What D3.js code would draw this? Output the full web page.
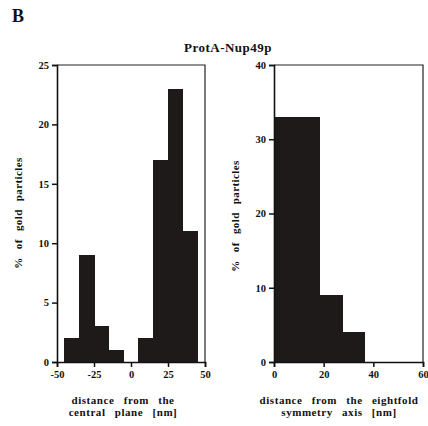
<!DOCTYPE html>
<html>
<head>
<meta charset="utf-8">
<script src="https://cdn.jsdelivr.net/npm/d3@7"></script>
<style>
  body { margin: 0; background: #fff; }
  svg text { font-family: "Liberation Serif", "Times New Roman", serif; font-weight: bold; fill: #111; }
</style>
</head>
<body>
<div id="chart"></div>
<script>
// histogram 1: distance from the central plane (bins of 10 nm)
const planeBinStart = [-45, -35, -25, -15, -5, 5, 15, 25, 35];
const planeBinEnd   = [-35, -25, -15, -5, 5, 15, 25, 35, 45];
const planeValues   = [2, 9, 3, 1, 0, 2, 17, 23, 11];
const planeXTicks   = [-50, -25, 0, 25, 50];
const planeYTicks   = [0, 5, 10, 15, 20, 25];

// histogram 2: distance from the eightfold symmetry axis
const axisBinStart = [0, 18.3, 27.4];
const axisBinEnd   = [18.3, 27.4, 36.4];
const axisValues   = [33, 9, 4];
const axisXTicks   = [0, 20, 40, 60];
const axisYTicks   = [0, 10, 20, 30, 40];

const W = 428, H = 426;
const svg = d3.select("#chart").append("svg")
    .attr("width", W)
    .attr("height", H);

svg.append("text")
    .attr("x", 12).attr("y", 22)
    .style("font-size", "18px")
    .text("B");

svg.append("text")
    .attr("x", 228).attr("y", 52)
    .attr("text-anchor", "middle")
    .style("font-size", "13px")
    .style("letter-spacing", "0.5px")
    .text("ProtA-Nup49p");

function panel(opt) {
  const x = d3.scaleLinear().domain(opt.xDomain).range([opt.x0, opt.x1]);
  const y = d3.scaleLinear().domain(opt.yDomain).range([362, 65]);

  // bars
  svg.append("g").selectAll("rect")
    .data(opt.values.map((v, i) => ({s: opt.starts[i], e: opt.ends[i], v: v})))
    .join("rect")
      .attr("x", d => x(d.s))
      .attr("width", d => x(d.e) - x(d.s) + 0.5)
      .attr("y", d => y(d.v))
      .attr("height", d => y(0) - y(d.v))
      .attr("shape-rendering", "crispEdges")
      .style("fill", "#1e1a1a");

  // frame top and right
  svg.append("path")
    .attr("d", `M${x.range()[0]},${y(opt.yDomain[1])}H${x.range()[1]}V${y(0)}`)
    .attr("fill", "none")
    .attr("stroke", "#222")
    .attr("stroke-width", 1.2);

  // axes
  const gx = svg.append("g")
      .attr("transform", `translate(0,${y(0)})`)
      .call(d3.axisBottom(x).tickValues(opt.xTicks).tickSize(5).tickPadding(4)
        .tickFormat(d3.format("d")));
  const gy = svg.append("g")
      .attr("transform", `translate(${x.range()[0]},0)`)
      .call(d3.axisLeft(y).tickValues(opt.yTicks).tickSize(5).tickPadding(3));
  [gx, gy].forEach(g => {
    g.attr("font-family", null).attr("font-size", null);
    g.select(".domain").attr("stroke", "#111").attr("stroke-width", 1.6);
    g.selectAll(".tick line").attr("stroke", "#111").attr("stroke-width", 1.5);
    g.selectAll(".tick text")
      .style("font-size", "10.5px")
      .attr("fill", "#111");
  });
  gx.selectAll(".tick text").text(d => d < 0 ? "-" + Math.abs(d) : d);

  // y label
  svg.append("text")
    .attr("transform", `translate(${opt.yLabelX},${opt.yLabelY}) rotate(-90)`)
    .attr("text-anchor", "middle")
    .style("font-size", "11px")
    .style("word-spacing", "5px")
    .style("letter-spacing", "0.4px")
    .text("% of gold particles");

  // x label (two lines)
  const t = svg.append("text")
    .attr("text-anchor", "middle")
    .style("font-size", "11px")
    .style("word-spacing", "6px")
    .style("letter-spacing", "0.55px");
  opt.xLabel.forEach((line, i) => {
    t.append("tspan")
      .attr("x", opt.xLabelX)
      .attr("y", 404 + i * 12)
      .text(line);
  });
}

panel({
  xDomain: [-50, 50], x0: 57, x1: 205,
  yDomain: [0, 25],
  starts: planeBinStart, ends: planeBinEnd, values: planeValues,
  xTicks: planeXTicks, yTicks: planeYTicks,
  yLabelX: 22, yLabelY: 213,
  xLabel: ["distance from the", "central plane [nm]"], xLabelX: 123
});

panel({
  xDomain: [0, 60], x0: 274, x1: 423,
  yDomain: [0, 40],
  starts: axisBinStart, ends: axisBinEnd, values: axisValues,
  xTicks: axisXTicks, yTicks: axisYTicks,
  yLabelX: 239, yLabelY: 216,
  xLabel: ["distance from the eightfold", "symmetry axis [nm]"], xLabelX: 339
});
</script>
</body>
</html>
